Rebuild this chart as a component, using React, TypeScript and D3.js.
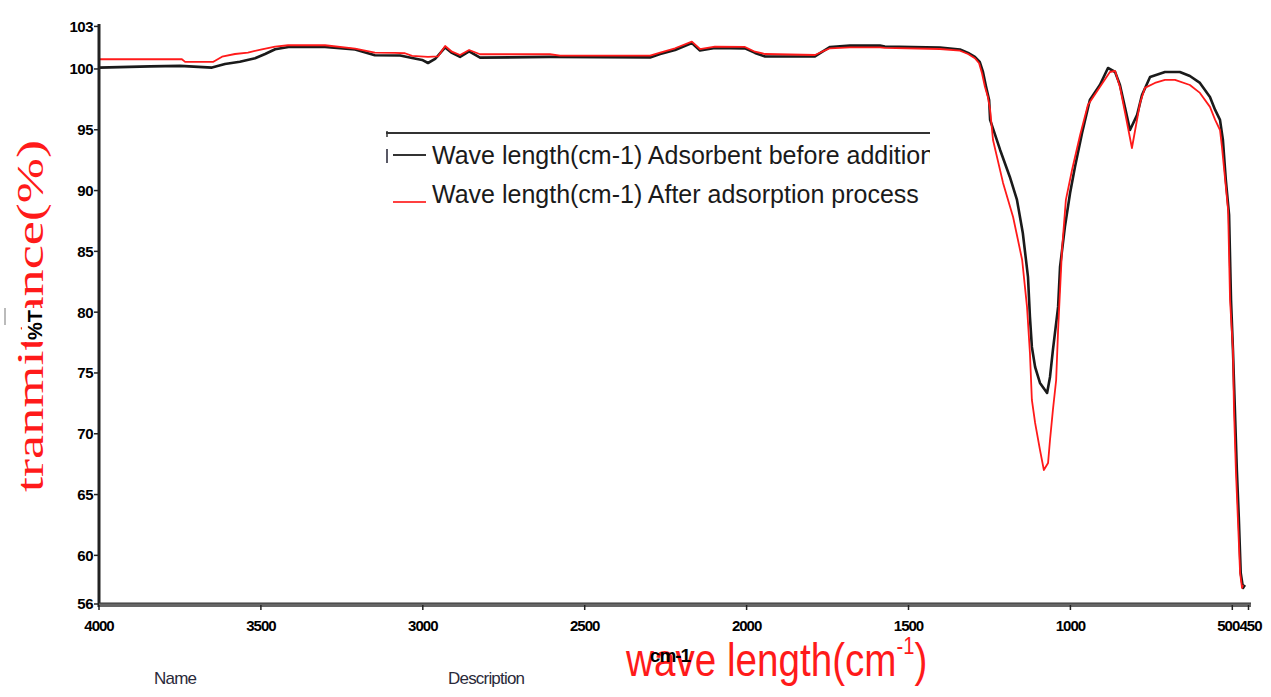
import React from "react";
import * as d3 from "d3";

// ---- Data (wavenumber cm-1, transmittance %) ----
const beforeWave = [4000, 3842, 3750, 3651, 3611, 3565, 3518, 3487, 3456, 3410, 3302, 3209, 3148, 3070, 3033, 3002, 2984, 2962, 2931, 2910, 2885, 2857, 2823, 2607, 2298, 2267, 2221, 2169, 2144, 2098, 2005, 1974, 1943, 1789, 1767, 1742, 1681, 1588, 1573, 1403, 1341, 1316, 1295, 1280, 1270, 1261, 1251, 1248, 1217, 1187, 1165, 1147, 1131, 1125, 1119, 1109, 1094, 1072, 1063, 1054, 1038, 1032, 1017, 1001, 986, 964, 940, 909, 884, 862, 847, 831, 816, 794, 779, 754, 708, 662, 631, 600, 569, 553, 538, 529, 520, 510, 504, 498, 492, 486, 480, 474, 467, 461];
const beforeT = [100.11, 100.21, 100.25, 100.11, 100.41, 100.6, 100.88, 101.23, 101.62, 101.83, 101.81, 101.6, 101.13, 101.11, 100.9, 100.74, 100.49, 100.82, 101.77, 101.32, 100.99, 101.44, 100.93, 100.99, 100.95, 101.23, 101.56, 102.14, 101.52, 101.73, 101.69, 101.32, 101.03, 101.03, 101.4, 101.81, 101.92, 101.92, 101.85, 101.77, 101.6, 101.32, 100.99, 100.58, 99.75, 98.6, 97.45, 95.81, 93.34, 91.12, 89.23, 86.51, 82.9, 79.61, 77.14, 75.49, 74.18, 73.36, 74.67, 76.89, 80.43, 83.72, 87.01, 89.8, 91.94, 94.74, 97.45, 98.68, 100.08, 99.75, 98.68, 96.79, 94.98, 96.22, 97.86, 99.34, 99.75, 99.75, 99.42, 98.85, 97.7, 96.63, 95.81, 94.16, 90.87, 88.0, 81.0, 76.89, 71.96, 67.02, 63.16, 58.55, 57.32, 57.56];

const afterWave = [4000, 3744, 3734, 3648, 3620, 3580, 3540, 3497, 3456, 3416, 3302, 3209, 3148, 3086, 3055, 3033, 2984, 2953, 2931, 2910, 2885, 2857, 2823, 2607, 2576, 2298, 2267, 2221, 2169, 2144, 2098, 2005, 1974, 1943, 1789, 1767, 1742, 1681, 1588, 1573, 1403, 1341, 1316, 1295, 1282, 1273, 1264, 1255, 1248, 1239, 1208, 1177, 1149, 1134, 1125, 1119, 1109, 1094, 1082, 1069, 1063, 1054, 1044, 1038, 1026, 1014, 995, 970, 946, 909, 878, 862, 847, 831, 810, 785, 770, 739, 708, 677, 631, 600, 569, 553, 538, 532, 522, 513, 507, 498, 495, 489, 483, 476, 470, 467];
const afterT = [100.8, 100.8, 100.58, 100.58, 101.01, 101.23, 101.34, 101.62, 101.83, 101.95, 101.95, 101.67, 101.34, 101.32, 101.29, 101.07, 100.99, 101.03, 101.89, 101.42, 101.15, 101.56, 101.21, 101.21, 101.09, 101.09, 101.34, 101.7, 102.25, 101.64, 101.83, 101.81, 101.42, 101.23, 101.15, 101.42, 101.7, 101.78, 101.78, 101.73, 101.64, 101.5, 101.23, 100.88, 100.47, 99.65, 98.54, 97.72, 96.63, 94.16, 90.63, 87.83, 84.29, 80.43, 76.64, 72.78, 70.89, 68.67, 67.02, 67.6, 69.49, 71.96, 74.42, 78.54, 85.11, 89.23, 91.69, 94.57, 97.04, 98.52, 99.75, 99.84, 98.52, 96.38, 93.5, 97.2, 98.44, 98.85, 99.1, 99.1, 98.68, 98.03, 96.88, 95.81, 94.98, 93.59, 90.87, 88.4, 81.0, 76.89, 72.2, 67.02, 63.16, 58.55, 57.32, 57.56];

const xTickValues = [4000, 3500, 3000, 2500, 2000, 1500, 1000, 500, 450];
const xTickLabels = ["4000", "3500", "3000", "2500", "2000", "1500", "1000", "500", "450"];
const yTickValues = [56, 60, 65, 70, 75, 80, 85, 90, 95, 100, 103.5];
const yTickLabels = ["56", "60", "65", "70", "75", "80", "85", "90", "95", "100", "103"];

const legendLabels = [
  "Wave length(cm-1) Adsorbent before addition",
  "Wave length(cm-1) After adsorption process",
];

export default function App() {
  const W = 1271;
  const H = 697;
  const x = d3.scaleLinear().domain([4000, 450]).range([99, 1248.5]);
  const y = d3.scaleLinear().domain([56, 103.5]).range([604, 26.4]);

  const line = d3
    .line<[number, number]>()
    .x((d) => x(d[0]))
    .y((d) => y(d[1]))
    .curve(d3.curveLinear);

  const before: [number, number][] = beforeWave.map((w, i) => [w, beforeT[i]]);
  const after: [number, number][] = afterWave.map((w, i) => [w, afterT[i]]);

  const tickFont = "'Liberation Sans', Arial, sans-serif";

  // the last two x labels sit side by side ("500450") as in the reference
  const xLabelAnchor = (v: number) => (v === 500 ? "end" : v === 450 ? "start" : "middle");
  const xLabelShift = (v: number) => (v === 500 ? 7 : v === 450 ? -9 : 0);

  return (
    <svg
      width={W}
      height={H}
      style={{ position: "absolute", left: 0, top: 0, background: "#fff" }}
    >
      <defs>
        <clipPath id="legclip">
          <rect x={380} y={120} width={550} height={100} />
        </clipPath>
      </defs>
      <rect x={0} y={0} width={W} height={H} fill="#fff" />

      {/* curves */}
      <path d={line(before) || ""} fill="none" stroke="#1a1a1a" strokeWidth={2.6} strokeLinejoin="round" />
      <path d={line(after) || ""} fill="none" stroke="#ff1a1a" strokeWidth={1.8} strokeLinejoin="round" />

      {/* y axis */}
      <line x1={99} x2={99} y1={24} y2={607} stroke="#222" strokeWidth={3} />
      {yTickValues.map((v, i) => (
        <g key={"yt" + i}>
          <line x1={94} x2={99} y1={y(v)} y2={y(v)} stroke="#222" strokeWidth={1.5} />
          <text
            x={93}
            y={y(v)}
            dy="0.36em"
            textAnchor="end"
            fontFamily={tickFont}
            fontWeight="bold"
            fontSize={15}
            fill="#000"
            letterSpacing={-0.5}
          >
            {yTickLabels[i]}
          </text>
        </g>
      ))}

      {/* x axis */}
      <line x1={99} x2={1251} y1={605} y2={605} stroke="#666" strokeWidth={4} />
      <line x1={99} x2={1251} y1={603} y2={603} stroke="#333" strokeWidth={1} />
      {xTickValues.map((v, i) => (
        <g key={"xt" + i}>
          <line x1={x(v)} x2={x(v)} y1={605} y2={610} stroke="#222" strokeWidth={1.5} />
          <text
            x={x(v) + xLabelShift(v)}
            y={631}
            textAnchor={xLabelAnchor(v)}
            fontFamily={tickFont}
            fontWeight="bold"
            fontSize={15}
            fill="#000"
            letterSpacing={-1}
          >
            {xTickLabels[i]}
          </text>
        </g>
      ))}

      {/* legend */}
      <line x1={386} x2={930} y1={133} y2={133} stroke="#333" strokeWidth={2} />
      <line x1={387} x2={387} y1={131} y2={137} stroke="#333" strokeWidth={1.5} />
      <line x1={387} x2={387} y1={149} y2={163} stroke="#223" strokeWidth={1.5} />
      <line x1={393} x2={426} y1={155} y2={155} stroke="#333" strokeWidth={2} />
      <line x1={393} x2={426} y1={202} y2={202} stroke="#ff4040" strokeWidth={2} />
      <g clipPath="url(#legclip)">
        <text x={432} y={164} fontFamily={tickFont} fontSize={25} fill="#1a1a1a">
          {legendLabels[0]}
        </text>
        <text x={432} y={203} fontFamily={tickFont} fontSize={25} fill="#1a1a1a">
          {legendLabels[1]}
        </text>
      </g>

      {/* y axis title */}
      <text
        transform="translate(43,492) rotate(-90)"
        fontFamily="'Liberation Serif', 'Times New Roman', serif"
        fontSize={38}
        fill="#ff1a1a"
        textLength={352}
        lengthAdjust="spacingAndGlyphs"
      >
        tranmittance(%)
      </text>
      <rect x={22} y={308} width={22} height={34} fill="#fff" />
      <text
        transform="translate(42,325) rotate(-90)"
        textAnchor="middle"
        fontFamily={tickFont}
        fontWeight="bold"
        fontSize={20}
        fill="#000"
      >
        %T
      </text>
      <line x1={5} x2={5} y1={308} y2={325} stroke="#bbb" strokeWidth={2} />

      {/* x axis title */}
      <text
        transform="translate(626,676) scale(0.84,1)"
        fontFamily={tickFont}
        fontSize={46}
        fill="#ff1a1a"
      >
        wave length(cm
        <tspan fontSize={24} dy={-22}>
          -1
        </tspan>
        <tspan dy={22}>)</tspan>
      </text>
      <text
        x={670}
        y={662}
        textAnchor="middle"
        fontFamily={tickFont}
        fontWeight="bold"
        fontSize={19}
        fill="#000"
        letterSpacing={-1}
      >
        cm-1
      </text>

      {/* bottom labels */}
      <text x={154} y={684} fontFamily={tickFont} fontSize={17} fill="#2a2a3a" letterSpacing={-0.8}>
        Name
      </text>
      <text x={448} y={684} fontFamily={tickFont} fontSize={17} fill="#2a2a3a" letterSpacing={-0.8}>
        Description
      </text>
    </svg>
  );
}
